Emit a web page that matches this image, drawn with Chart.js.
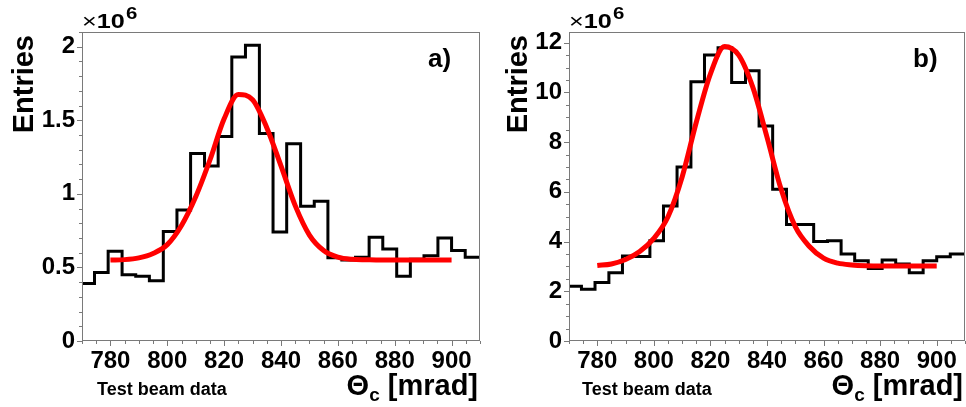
<!DOCTYPE html>
<html>
<head>
<meta charset="utf-8">
<script src="https://cdn.jsdelivr.net/npm/chart.js@4.4.1/dist/chart.umd.min.js"></script>
<style>
    html, body { margin: 0; padding: 0; background: #fff; }
    #wrap { position: relative; width: 966px; height: 407px; overflow: hidden; }
    canvas { position: absolute; top: 0; }
    #chartA { left: 0; }
    #chartB { left: 490px; }
</style>
</head>
<body>
<div id="wrap">
    <canvas id="chartA" width="490" height="407"></canvas>
    <canvas id="chartB" width="476" height="407"></canvas>
</div>
<script>
// Histogram bin edges in mrad (same binning for both panels)
const binEdges = [770, 774.4, 779.2, 784.1, 788.9, 793.7, 798.6, 803.4, 808.2, 813.1, 817.9,
    822.7, 827.5, 832.4, 837.2, 842.0, 846.9, 851.7, 856.5, 861.4, 866.2,
    871.0, 875.8, 880.7, 885.5, 890.3, 895.2, 900.0, 904.8, 910];

// Entries per bin, x10^6
const entriesA = [0.39, 0.465, 0.61, 0.45, 0.44, 0.41, 0.745, 0.89, 1.275, 1.19, 1.39, 1.93,
    2.01, 1.41, 0.74, 1.34, 0.915, 0.95, 0.565, 0.55, 0.57, 0.705, 0.625, 0.44, 0.555,
    0.58, 0.70, 0.615, 0.57];
const entriesB = [2.2, 2.08, 2.35, 2.75, 3.42, 3.4, 4.03, 5.43, 7.0, 10.43, 11.5, 11.8,
    10.4, 10.87, 8.65, 6.1, 4.69, 4.69, 4.0, 4.03, 3.5, 3.23, 2.92, 3.26, 3.1, 2.75,
    3.23, 3.39, 3.5];

// Fit curves (gauss + background)
const fitX = [780, 785, 790, 795, 800, 805, 810, 815, 820, 825, 830, 835, 840, 845, 850,
    855, 860, 865, 870, 875, 880, 885, 890, 895, 900];
const fitA = [0.55, 0.553, 0.565, 0.595, 0.655, 0.785, 0.98, 1.23, 1.51, 1.675, 1.64, 1.45,
    1.19, 0.92, 0.72, 0.615, 0.57, 0.555, 0.552, 0.55, 0.55, 0.55, 0.55, 0.55, 0.55];
const fitB = [3.04, 3.1, 3.28, 3.6, 4.13, 5.0, 6.6, 8.8, 10.75, 11.85, 11.5, 10.2, 8.2,
    6.1, 4.6, 3.8, 3.33, 3.13, 3.06, 3.03, 3.02, 3.02, 3.02, 3.02, 3.02];

const xTickValues = [780, 800, 820, 840, 860, 880, 900];
const yTickValuesA = [0, 0.5, 1, 1.5, 2];
const yTickValuesB = [0, 2, 4, 6, 8, 10, 12];

const FONT = "'Liberation Sans', Arial, Helvetica, sans-serif";
const FRAME_COLOR = '#7a7a7a';

// ROOT style frame with major/minor tick marks drawn outside the frame
const rootFramePlugin = {
    id: 'rootFrame',
    afterDatasetsDraw(chart, args, opts) {
        const { ctx, chartArea: ca, scales } = chart;
        const x = scales.x, y = scales.y;
        ctx.save();
        ctx.strokeStyle = FRAME_COLOR;
        ctx.lineWidth = 1;
        ctx.strokeRect(ca.left + 0.5, ca.top + 0.5, ca.right - ca.left - 1, ca.bottom - ca.top - 1);

        ctx.beginPath();
        for (let v = x.min; v <= x.max + 1e-6; v += opts.xMinor) {
            const px = Math.round(x.getPixelForValue(v)) + 0.5;
            const major = xTickValues.some(t => Math.abs(t - v) < 1e-6);
            ctx.moveTo(px, ca.bottom);
            ctx.lineTo(px, ca.bottom + (major ? 5 : 3));
        }
        for (let v = 0; v <= y.max + 1e-6; v += opts.yMinor) {
            const py = Math.round(y.getPixelForValue(v)) + 0.5;
            const major = opts.yMajor.some(t => Math.abs(t - v) < 1e-6);
            ctx.moveTo(ca.left, py);
            ctx.lineTo(ca.left - (major ? 5 : 3), py);
        }
        ctx.stroke();
        ctx.restore();
    }
};

// Axis titles, exponent and panel labels
const rootTextPlugin = {
    id: 'rootText',
    afterDraw(chart, args, opts) {
        const { ctx, chartArea: ca } = chart;
        ctx.save();
        ctx.fillStyle = '#000';
        ctx.textBaseline = 'alphabetic';
        ctx.textAlign = 'left';

        // x10^6 above the y axis (the original text is a bit wide)
        ctx.save();
        ctx.translate(ca.left, ca.top - 4);
        ctx.scale(1.2, 1);
        ctx.font = `21px ${FONT}`;
        ctx.fillText('\u00d7', 0, 0);
        let ex = ctx.measureText('\u00d7').width;
        ctx.font = `bold 21px ${FONT}`;
        ctx.fillText('10', ex, 0);
        ex += ctx.measureText('10').width + 1;
        ctx.font = `bold 17px ${FONT}`;
        ctx.fillText('6', ex, -9);
        ctx.restore();

        // y title, rotated, aligned to the top of the frame
        ctx.save();
        ctx.translate(ca.left - opts.yTitleOffset, ca.top + 3);
        ctx.rotate(-Math.PI / 2);
        ctx.textAlign = 'right';
        ctx.font = `bold 29px ${FONT}`;
        ctx.fillText('Entries', 0, 0);
        ctx.restore();

        // x title: Theta_c [mrad], right aligned
        const base = 395;
        ctx.font = `bold 29px ${FONT}`;
        const wUnit = ctx.measureText(' [mrad]').width;
        const wTheta = ctx.measureText('\u0398').width;
        ctx.font = `bold 19px ${FONT}`;
        const wSub = ctx.measureText('c').width;
        let xPos = ca.right - 2 - wUnit - wSub - wTheta;
        ctx.font = `bold 29px ${FONT}`;
        ctx.fillText('\u0398', xPos, base);
        xPos += wTheta;
        ctx.font = `bold 19px ${FONT}`;
        ctx.fillText('c', xPos, base + 6);
        xPos += wSub;
        ctx.font = `bold 29px ${FONT}`;
        ctx.fillText(' [mrad]', xPos, base);

        ctx.font = `bold 18px ${FONT}`;
        ctx.fillText('Test beam data', ca.left + opts.noteOffset, base);

        ctx.font = `bold 26px ${FONT}`;
        ctx.fillText(opts.panel, ca.right - opts.panelOffset, ca.top + 35);
        ctx.restore();
    }
};

function buildChart(canvasId, entries, fit, yMax, yTicks, yMinor, extra) {
    const histData = binEdges.map((edge, i) => ({ x: edge, y: entries[Math.min(i, entries.length - 1)] }));
    const fitData = fitX.map((x, i) => ({ x, y: fit[i] }));

    return new Chart(document.getElementById(canvasId), {
        type: 'line',
        data: {
            datasets: [
                {
                    label: 'fit',
                    data: fitData,
                    borderColor: '#ff0000',
                    borderWidth: 5,
                    pointRadius: 0,
                    fill: false,
                    cubicInterpolationMode: 'monotone'
                },
                {
                    label: 'data',
                    data: histData,
                    borderColor: '#000000',
                    borderWidth: 3,
                    pointRadius: 0,
                    fill: false,
                    stepped: 'before'
                }
            ]
        },
        options: {
            responsive: false,
            animation: false,
            devicePixelRatio: 1,
            layout: { padding: { top: 32, right: extra.padRight, left: 0, bottom: 0 } },
            plugins: {
                legend: { display: false },
                tooltip: { enabled: false },
                rootFrame: { xMinor: 5, yMinor: yMinor, yMajor: yTicks },
                rootText: extra.text
            },
            scales: {
                x: {
                    type: 'linear',
                    min: 770,
                    max: 910,
                    afterBuildTicks: scale => { scale.ticks = xTickValues.map(v => ({ value: v })); },
                    afterFit: scale => { scale.height = 66; },
                    grid: { display: false, drawTicks: false },
                    border: { display: false },
                    ticks: {
                        color: '#000',
                        padding: 6,
                        maxRotation: 0,
                        font: { family: FONT, size: 24, weight: 'bold' },
                        callback: v => String(v)
                    }
                },
                y: {
                    type: 'linear',
                    min: 0,
                    max: yMax,
                    afterBuildTicks: scale => { scale.ticks = yTicks.map(v => ({ value: v })); },
                    afterFit: scale => { scale.width = extra.yWidth; },
                    grid: { display: false, drawTicks: false },
                    border: { display: false },
                    ticks: {
                        color: '#000',
                        padding: 7,
                        font: { family: FONT, size: 24, weight: 'bold' },
                        callback: v => String(v)
                    }
                }
            }
        },
        plugins: [rootFramePlugin, rootTextPlugin]
    });
}

buildChart('chartA', entriesA, fitA, 2.1, yTickValuesA, 0.1, {
    padRight: 10,
    yWidth: 82,
    text: { panel: 'a)', yTitleOffset: 49, noteOffset: 15, panelOffset: 52 }
});

buildChart('chartB', entriesB, fitB, 12.43, yTickValuesB, 0.5, {
    padRight: 1,
    yWidth: 79,
    text: { panel: 'b)', yTitleOffset: 42, noteOffset: 13, panelOffset: 52 }
});
</script>
</body>
</html>
